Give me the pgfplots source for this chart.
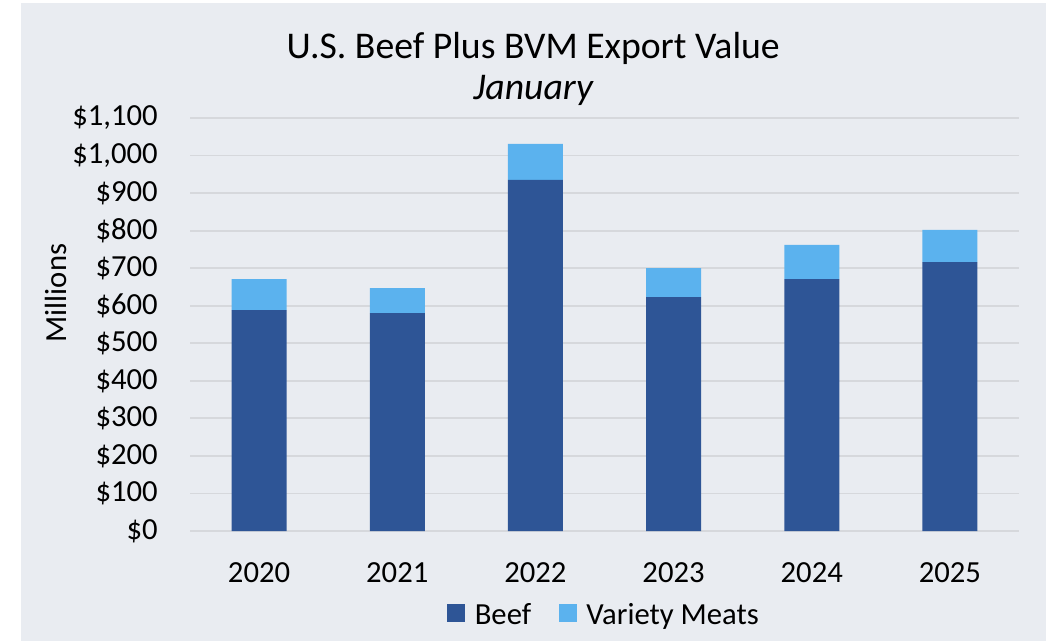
\documentclass[border=0pt]{standalone}
\usepackage{pgfplots}
\pgfplotsset{compat=1.18}
\usepackage{fontspec}
\setmainfont{Carlito}
\definecolor{bgc}{RGB}{233,236,241}
\definecolor{beef}{RGB}{46,85,150}
\definecolor{vm}{RGB}{91,178,238}
\definecolor{gridc}{RGB}{214,216,220}
\begin{document}
\begin{tikzpicture}
\fill[bgc] (15.75pt,1.5pt) rectangle (784.5pt,480pt);
\begin{axis}[
  at={(142.5pt,84pt)}, anchor=south west,
  scale only axis, width=621.75pt, height=309.75pt,
  ybar stacked, bar width=41.25pt,
  xmin=-0.5, xmax=5.5, ymin=0, ymax=1100,
  xtick=data, xticklabels={2020,2021,2022,2023,2024,2025},
  ytick={0,100,...,1100},
  yticklabel={\$\pgfmathprintnumber{\tick}},
  /pgf/number format/assume math mode=true,
  /pgf/number format/.cd, 1000 sep={,}, /pgfplots/.cd,
  major tick length=0pt,
  axis line style={draw=none},
  ymajorgrids, grid style={gridc, line width=1.3pt},
  tick label style={font=\fontsize{23}{27}\selectfont, inner sep=0pt},
  yticklabel style={anchor=east, xshift=-24pt},
  xticklabel style={anchor=base, yshift=-38.25pt},
  ylabel={Millions},
  ylabel style={font=\fontsize{23}{27}\selectfont, at={(rel axis cs:-0.162,0.576)}, anchor=center, rotate=0},
  legend columns=2,
  legend style={draw=none, fill=none, at={(0.5,-0.204)}, anchor=center,
    font=\fontsize{23}{27}\selectfont,
    /tikz/every even column/.append style={column sep=19pt}},
  legend image code/.code={\fill[#1] (0pt,-5pt) rectangle (13.5pt,8.5pt); \path (18.5pt,0pt);},
  clip=false,
]
\addplot+[fill=beef, draw=none] coordinates {(0,588) (1,580) (2,935) (3,623) (4,671) (5,716)};
\addplot+[fill=vm, draw=none] coordinates {(0,83) (1,67) (2,96) (3,77) (4,91) (5,86)};
\legend{Beef, Variety Meats}
\node[anchor=base, font=\fontsize{28.3}{33}\selectfont] at (rel axis cs:0.414,1.145) {U.S. Beef Plus BVM Export Value};
\node[anchor=base, font=\fontsize{28.3}{33}\selectfont\itshape] at (rel axis cs:0.414,1.0436) {January};
\end{axis}
\pgfresetboundingbox
\useasboundingbox (0pt,0pt) rectangle (784.5pt,482.25pt);
\end{tikzpicture}
\end{document}
